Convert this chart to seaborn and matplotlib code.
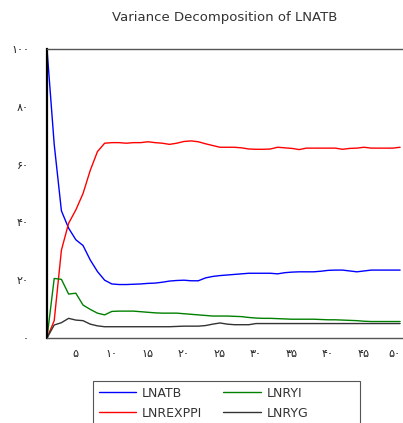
import numpy as np
import pandas as pd
import seaborn as sns
import matplotlib.pyplot as plt
from matplotlib.patches import Rectangle
from matplotlib.ticker import MultipleLocator

# Variance decomposition of LNATB, periods 1..50
periods = list(range(1, 51))

lnatb = [100, 67, 44, 38, 34, 32, 27, 23, 20, 18.7,
         18.5, 18.5, 18.6, 18.7, 18.9, 19.0, 19.3, 19.7, 19.9, 20.0,
         19.8, 19.8, 20.8, 21.3, 21.6, 21.8, 22.0, 22.2, 22.4, 22.4,
         22.4, 22.4, 22.2, 22.6, 22.8, 22.9, 22.9, 22.9, 23.1, 23.4,
         23.5, 23.5, 23.2, 22.9, 23.2, 23.5, 23.5, 23.5, 23.5, 23.5]

lnrexppi = [0, 6, 30.4, 39.7, 44.3, 50, 58, 64.5, 67.4, 67.6,
            67.6, 67.4, 67.6, 67.6, 67.9, 67.6, 67.4, 67.0, 67.4, 68.0,
            68.2, 67.9, 67.2, 66.6, 66.0, 66.0, 66.0, 65.8, 65.4, 65.3,
            65.3, 65.4, 66.0, 65.8, 65.6, 65.2, 65.7, 65.7, 65.7, 65.7,
            65.7, 65.3, 65.6, 65.7, 66.0, 65.7, 65.7, 65.7, 65.7, 66.0]

lnryi = [0, 20.6, 20.3, 15.2, 15.5, 11.4, 9.9, 8.6, 8.0, 9.2,
         9.3, 9.3, 9.3, 9.1, 8.9, 8.7, 8.6, 8.6, 8.6, 8.4,
         8.2, 8.0, 7.8, 7.6, 7.6, 7.6, 7.5, 7.4, 7.1, 6.9,
         6.8, 6.8, 6.7, 6.6, 6.5, 6.5, 6.5, 6.5, 6.4, 6.3,
         6.3, 6.2, 6.1, 6.0, 5.8, 5.7, 5.7, 5.7, 5.7, 5.7]

lnryg = [0, 4.5, 5.3, 6.8, 6.2, 6.0, 4.8, 4.2, 3.9, 3.9,
         3.9, 3.9, 3.9, 3.9, 3.9, 3.9, 3.9, 3.9, 4.0, 4.1,
         4.1, 4.1, 4.3, 4.8, 5.2, 4.8, 4.6, 4.6, 4.6, 5.0,
         5.0, 5.0, 5.0, 5.0, 5.0, 5.0, 5.0, 5.0, 5.0, 5.0,
         5.0, 5.0, 5.0, 5.0, 5.0, 5.0, 5.0, 5.0, 5.0, 5.0]

series_names = ["LNATB", "LNREXPPI", "LNRYI", "LNRYG"]
series_colors = ["#0000ff", "#ff0000", "#008000", "#333333"]

y_ticks = [0, 20, 40, 60, 80, 100]
x_ticks = [5, 10, 15, 20, 25, 30, 35, 40, 45, 50]

persian = str.maketrans("0123456789", "۰۱۲۳۴۵۶۷۸۹")

df = pd.DataFrame({
    "period": periods * 4,
    "value": lnatb + lnrexppi + lnryi + lnryg,
    "series": sum([[n] * len(periods) for n in series_names], []),
})

sns.set_style("white")
plt.rcParams["font.family"] = ["DejaVu Sans", "Noto Sans"]

W, H = 403, 423
fig = plt.figure(figsize=(W / 100, H / 100), dpi=100)
ax = fig.add_axes([47 / W, 1 - 338 / H, 1 - 47 / W, (338 - 49) / H])

sns.lineplot(data=df, x="period", y="value", hue="series",
             hue_order=series_names, palette=series_colors,
             linewidth=1.0, ax=ax, legend=False)

ax.set_xlim(1, 50.4)
ax.set_ylim(0, 100)
ax.set_xlabel("")
ax.set_ylabel("")

ax.set_xticks(x_ticks)
ax.set_xticklabels([str(t).translate(persian) for t in x_ticks], fontsize=8,
                   color="#222222")
ax.get_xticklabels()[-1].set_ha("right")
ax.xaxis.set_minor_locator(MultipleLocator(1))
ax.set_yticks(y_ticks)
ax.set_yticklabels([str(t).translate(persian) for t in y_ticks], fontsize=8,
                   color="#222222")

ax.tick_params(axis="x", which="major", direction="out", length=5, width=0.8,
               color="#555555", pad=3)
ax.tick_params(axis="x", which="minor", direction="out", length=3, width=0.6,
               color="#555555")
ax.tick_params(axis="y", which="major", direction="out", length=4, width=0.8,
               color="#555555", pad=9)

ax.spines["left"].set_color("black")
ax.spines["left"].set_linewidth(1.6)
ax.spines["bottom"].set_color("#555555")
ax.spines["bottom"].set_linewidth(1.0)
ax.spines["top"].set_color("#555555")
ax.spines["top"].set_linewidth(1.0)
ax.spines["right"].set_visible(False)

fig.text(225 / W, 1 - 18 / H, "Variance Decomposition of LNATB",
         ha="center", va="center", fontsize=9.5, color="#333333")

# legend entries, box drawn separately (it runs past the bottom edge)
handles = [plt.Line2D([], [], color=c, linewidth=1.0) for c in series_colors]
leg = fig.legend(handles, series_names, ncol=2, loc="upper left",
                 bbox_to_anchor=(93 / W, 1 - 381 / H),
                 frameon=False, fontsize=9,
                 handlelength=3.0, handletextpad=0.45, columnspacing=1.7,
                 borderpad=0.45, borderaxespad=0, labelspacing=0.55)
for t in leg.get_texts():
    t.set_color("#333333")

fig.patches.append(Rectangle((93 / W, -0.02), (360 - 93) / W, 0.02 + (423 - 381) / H,
                             transform=fig.transFigure, fill=False,
                             edgecolor="#555555", linewidth=0.8))

fig.savefig("out.png", dpi=100)
